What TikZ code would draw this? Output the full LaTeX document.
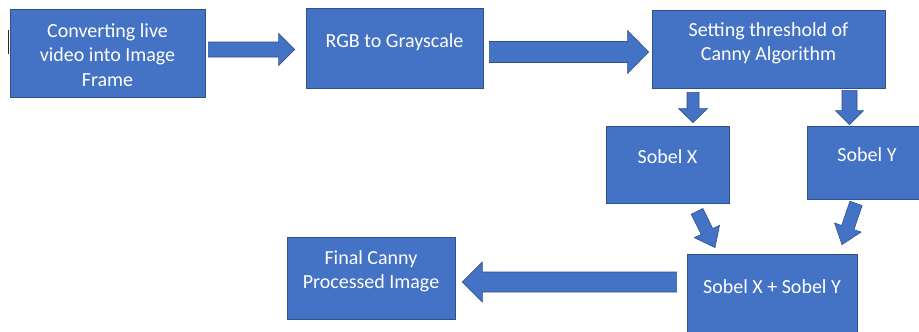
\documentclass[tikz,border=0pt]{standalone}
\usepackage{fontspec}
\setmainfont{Carlito}
\usetikzlibrary{positioning, calc}
\definecolor{cB}{RGB}{68,114,196}
\definecolor{cE}{RGB}{47,82,143}
\definecolor{cMark}{RGB}{40,40,40}

\tikzset{
  stage/.style={rectangle, draw=cE, fill=cB, line width=0.8pt, text=white, align=center,
    inner sep=0pt, font=\fontsize{20}{24.5}\selectfont, text height=12pt, text depth=14pt},
  barrow/.style={draw=cE, fill=cB, line width=0.6pt, line join=miter}
}
% block arrow: tail, tip, shaft half width, head half width, head length
\newcommand{\blockarrow}[5]{%
  \draw[barrow] ($(#1)!#3!90:(#2)$) -- ($(#2)!#5!(#1)!#3!90:(#2)$)
    -- ($(#2)!#5!(#1)!#4!90:(#2)$) -- (#2) -- ($(#2)!#5!(#1)!#4!-90:(#2)$)
    -- ($(#2)!#5!(#1)!#3!-90:(#2)$) -- ($(#1)!#3!-90:(#2)$) -- cycle;}

\begin{document}
\begin{tikzpicture}[on grid]
    \useasboundingbox (0,0) rectangle (919pt,-332pt);

    \node[stage, minimum width=195pt, minimum height=88pt, text height=66pt, text depth=0pt] (frame) at (107.5pt,-53pt) {Converting live\\video into Image\\Frame};
    \node[stage, minimum width=177pt, minimum height=80pt] (gray) [above right=5pt and 287pt of frame] {RGB to Grayscale};
    \node[stage, minimum width=233pt, minimum height=78pt, text height=36.5pt, text depth=13pt] (thresh) [below right=1pt and 374pt of gray] {Setting threshold of\\Canny Algorithm};
    \node[stage, minimum width=123pt, minimum height=77pt] (sobx) [below left=115.5pt and 101pt of thresh] {Sobel X};
    \node[stage, minimum width=120pt, minimum height=73pt] (soby) [below right=113.5pt and 98.5pt of thresh] {Sobel Y};
    \node[stage, minimum width=170pt, minimum height=88pt, text depth=21pt] (sum) [below right=133.5pt and 104.5pt of sobx] {Sobel X + Sobel Y};
    \node[stage, minimum width=168pt, minimum height=82pt, text height=36.5pt, text depth=15pt] (final) [above left=20pt and 401pt of sum] {Final Canny\\Processed Image};

    \draw[cMark, line width=1.6pt] ($(frame.west)+(-1.2pt,23pt)$) -- ($(frame.west)+(-1.2pt,-1pt)$);

    \coordinate (t1) at ($(frame.east)+(3pt,3.5pt)$);
    \coordinate (h1) at ($(gray.west)+(-11pt,-1.5pt)$);
    \coordinate (t2) at ($(gray.east)+(6pt,-4pt)$);
    \coordinate (h2) at ($(thresh.west)+(-3pt,-3pt)$);
    \coordinate (t3) at ($(sobx.north |- thresh.south)+(25.5pt,-4pt)$);
    \coordinate (h3) at ($(sobx.north)+(25.5pt,3pt)$);
    \coordinate (t4) at ($(soby.north |- thresh.south)+(-17.5pt,-2pt)$);
    \coordinate (h4) at ($(soby.north)+(-17.5pt,1pt)$);
    \coordinate (t5) at ($(sobx.south)+(29.5pt,-8pt)$);
    \coordinate (h5) at ($(sum.north)+(-57pt,6pt)$);
    \coordinate (t6) at ($(soby.south)+(-11pt,-4pt)$);
    \coordinate (h6) at ($(sum.north)+(70pt,9pt)$);
    \coordinate (t7) at ($(sum.west)+(-10pt,16pt)$);
    \coordinate (h7) at ($(final.east)+(7pt,-4pt)$);

    \blockarrow{t1}{h1}{7.5pt}{16pt}{16pt}
    \blockarrow{t2}{h2}{10.5pt}{21.5pt}{21pt}
    \blockarrow{t3}{h3}{6pt}{14.5pt}{14pt}
    \blockarrow{t4}{h4}{7.5pt}{14pt}{14pt}
    \blockarrow{t5}{h5}{6.5pt}{14pt}{18pt}
    \blockarrow{t6}{h6}{6.5pt}{14pt}{18pt}
    \blockarrow{t7}{h7}{10pt}{20pt}{20pt}
\end{tikzpicture}
\end{document}
